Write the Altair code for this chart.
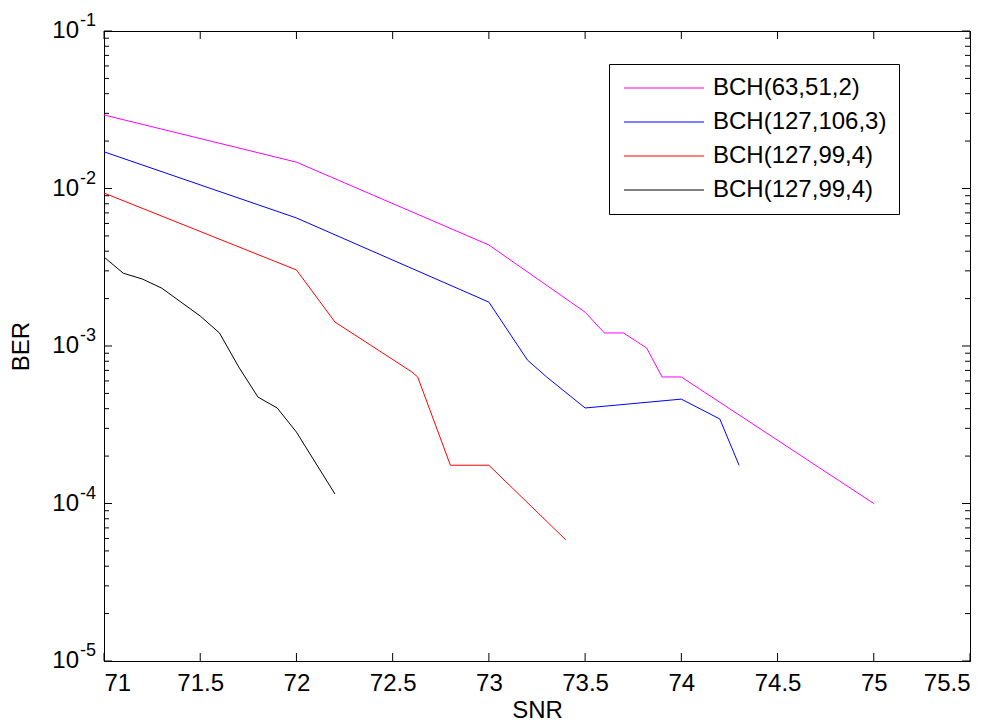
import altair as alt
import pandas as pd

# ---- data ----
snr_s1 = [71.0, 72.0, 73.0, 73.5, 73.6, 73.7, 73.82, 73.9, 74.0, 75.0]
ber_s1 = [0.0293, 0.0147, 0.00438, 0.00164, 0.00121, 0.00121, 0.00097, 0.000636, 0.000636, 0.0001]

snr_s2 = [71.0, 72.0, 73.0, 73.2, 73.3, 73.5, 74.0, 74.2, 74.3]
ber_s2 = [0.0171, 0.0065, 0.0019, 0.000815, 0.000636, 0.000404, 0.00046, 0.000344, 0.000175]

snr_s3 = [71.0, 72.0, 72.2, 72.6, 72.63, 72.8, 73.0, 73.4]
ber_s3 = [0.00936, 0.00304, 0.00142, 0.000684, 0.000636, 0.000175, 0.000175, 5.87e-5]

snr_s4 = [71.0, 71.1, 71.2, 71.3, 71.4, 71.5, 71.6, 71.7, 71.8, 71.9, 72.0, 72.2]
ber_s4 = [0.00367, 0.0029, 0.00266, 0.00233, 0.0019, 0.00155, 0.00121, 0.000736, 0.000474, 0.000404, 0.000284, 0.000115]

series_keys = ["0", "1", "2", "3"]
series_names = ["BCH(63,51,2)", "BCH(127,106,3)", "BCH(127,99,4)", "BCH(127,99,4)"]
series_colors = ["#ff00ff", "#0000ff", "#ff0000", "#000000"]

x_ticks = [71, 71.5, 72, 72.5, 73, 73.5, 74, 74.5, 75, 75.5]
y_major = [1e-5, 1e-4, 1e-3, 1e-2, 1e-1]
y_exponents = ["-5", "-4", "-3", "-2", "-1"]
y_minor = [m * 10.0 ** k for k in range(-5, -1) for m in range(2, 10)]

# ---- tables ----
rows = []
for key, xs_, ys_ in zip(series_keys, [snr_s1, snr_s2, snr_s3, snr_s4], [ber_s1, ber_s2, ber_s3, ber_s4]):
    for j, (a, b) in enumerate(zip(xs_, ys_)):
        rows.append({"series": key, "snr": a, "ber": b, "order": j})
df = pd.DataFrame(rows)
major_df = pd.DataFrame({"ber": y_major, "base": ["10"] * len(y_major), "sup": y_exponents})
minor_df = pd.DataFrame({"ber": y_minor})
xt_df = pd.DataFrame({"snr": x_ticks})

W, H = 866, 630
FONT = "Liberation Sans"
FS = 24

xsc = alt.Scale(domain=[71, 75.5], nice=False, zero=False)
ysc = alt.Scale(type="log", domain=[1e-5, 1e-1], nice=False)

x_axis = alt.Axis(
    values=x_ticks, format="~g", tickSize=0, labelPadding=10, labelFontSize=FS,
    labelFont=FONT, labelColor="black", title="SNR", titleFont=FONT, titleFontSize=FS,
    titleFontWeight="normal", titleColor="black", titleX=W / 2, titleY=49,
    titleAlign="center", titleBaseline="middle", grid=False, domainColor="black")
y_axis = alt.Axis(
    values=y_major, labels=False, tickSize=0, title="BER", titleFont=FONT,
    titleFontSize=FS, titleFontWeight="normal", titleColor="black", titleX=-83,
    titleY=H / 2, titleAngle=-90, titleAlign="center", titleBaseline="middle",
    grid=False, domainColor="black")

NB = "\u00a0" * 5
label_expr = "[" + ",".join("'%s%s'" % (n, NB) for n in series_names) + "][toNumber(datum.value)]"

lines = alt.Chart(df).mark_line(strokeWidth=1, clip=True).encode(
    x=alt.X("snr:Q", scale=xsc, axis=x_axis),
    y=alt.Y("ber:Q", scale=ysc, axis=y_axis),
    color=alt.Color("series:N", scale=alt.Scale(domain=series_keys, range=series_colors),
                    legend=alt.Legend(title=None, orient="none", legendX=505, legendY=33,
                                      symbolType="M-8,0H8", symbolSize=100, symbolStrokeWidth=1,
                                      symbolOffset=31,
                                      labelFontSize=FS, labelFont=FONT, labelColor="black",
                                      labelExpr=label_expr, labelOffset=37, labelLimit=400,
                                      strokeColor="black", fillColor="white", padding=12,
                                      rowPadding=10)),
    order="order:Q",
)

def yticks(data, x0, x1):
    return alt.Chart(data).mark_rule(color="black", strokeWidth=1).encode(
        y=alt.Y("ber:Q", scale=ysc, axis=y_axis), x=alt.value(x0), x2=alt.value(x1))

def xticks(y0, y1):
    return alt.Chart(xt_df).mark_rule(color="black", strokeWidth=1).encode(
        x=alt.X("snr:Q", scale=xsc, axis=x_axis), y=alt.value(y0), y2=alt.value(y1))

ylab = alt.Chart(major_df).mark_text(align="right", baseline="middle", fontSize=FS,
                                     font=FONT, color="black").encode(
    y=alt.Y("ber:Q", scale=ysc, axis=y_axis), x=alt.value(-25), text="base:N")
ysup = alt.Chart(major_df).mark_text(align="left", baseline="middle", fontSize=18, dy=-10,
                                     font=FONT, color="black").encode(
    y=alt.Y("ber:Q", scale=ysc, axis=y_axis), x=alt.value(-24), text="sup:N")

chart = alt.layer(
    lines,
    yticks(major_df, 0, 8), yticks(minor_df, 0, 5),
    yticks(major_df, W - 8, W), yticks(minor_df, W - 5, W),
    xticks(H - 8, H), xticks(0, 8),
    ylab, ysup,
).properties(
    width=W, height=H,
    autosize=alt.AutoSizeParams(type="none"),
    padding={"left": 96, "top": 23, "right": 20, "bottom": 70},
    background="white",
).configure_view(stroke="black", strokeWidth=1)

chart.save("out.html", embed_options={"renderer": "svg", "actions": False})
